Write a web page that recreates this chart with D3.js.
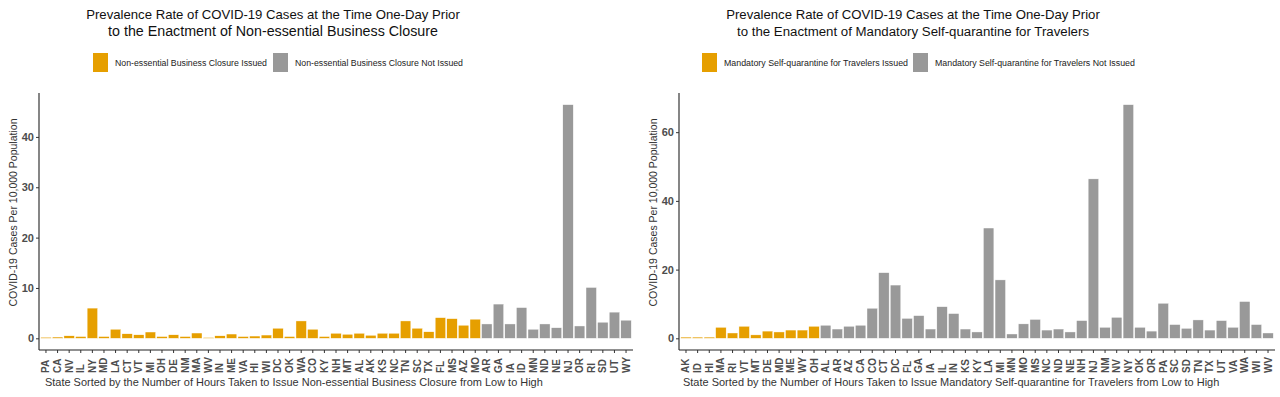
<!DOCTYPE html>
<html>
<head>
<meta charset="utf-8">
<script src="https://cdn.jsdelivr.net/npm/d3@7"></script>
<style>
  body { margin: 0; background: #fff; }
  svg { display: block; font-family: "Liberation Sans", Arial, sans-serif; }
</style>
</head>
<body>
<svg id="chart" width="1280" height="397"></svg>
<script>
// ---- data ----
var closureStates = ['PA','CA','NV','IL','NY','MD','LA','CT','VT','MI','OH','DE','NM','MA','WV','IN','ME','VA','HI','WI','DC','OK','WA','CO','KY','NH','MT','AL','AK','KS','NC','TN','SC','TX','FL','MS','AZ','MO','AR','GA','IA','ID','MN','ND','NE','NJ','OR','RI','SD','UT','WY']
var closureRates = [0.2,0.25,0.5,0.35,6.0,0.35,1.8,0.9,0.7,1.25,0.35,0.7,0.35,1.05,0.15,0.5,0.85,0.35,0.45,0.65,2.0,0.35,3.45,1.8,0.35,1.0,0.8,1.0,0.6,1.0,1.0,3.45,2.0,1.3,4.1,3.9,2.6,3.8,2.85,6.8,2.85,6.1,1.8,2.85,2.1,46.4,2.45,10.1,3.2,5.2,3.6]
var closureIssued = 38   // first 38 states issued the order

var quarStates = ['AK','ID','HI','MA','RI','VT','MT','DE','MD','ME','WY','OH','AL','AR','AZ','CA','CO','CT','DC','FL','GA','IA','IL','IN','KS','KY','LA','MI','MN','MO','MS','NC','ND','NE','NH','NJ','NM','NV','NY','OK','OR','PA','SC','SD','TN','TX','UT','VA','WA','WI','WV']
var quarRates = [0.35,0.35,0.35,3.2,1.55,3.5,1.0,2.1,1.85,2.4,2.4,3.5,3.8,2.7,3.5,3.8,8.75,19.1,15.5,5.8,6.6,2.7,9.2,7.2,2.7,1.85,32.1,17.0,1.26,4.2,5.5,2.4,2.7,1.85,5.15,46.4,3.2,6.1,68.0,3.2,2.1,10.2,4.0,2.9,5.35,2.4,5.15,3.2,10.7,4.0,1.55]
var quarIssued = 12

var closureTicks = [0,10,20,30,40]
var quarTicks = [0,20,40,60]

var orange = '#E69F00', grey = '#999999'
var svg = d3.select('#chart')

function drawPanel(cfg){
  var data = cfg.states.map(function(s,i){
    return {state:s, rate:cfg.rates[i], issued: i < cfg.issued}
  })
  var g = svg.append('g')

  var x = d3.scaleBand().domain(cfg.states)
    .range([cfg.left, cfg.right]).paddingInner(0.1).paddingOuter(0.15)
  var ymax = d3.max(cfg.rates)
  var y = d3.scaleLinear().domain([-0.05*ymax, 1.05*ymax]).range([cfg.bottom, cfg.top])

  // bars
  g.selectAll('.bar').data(data).enter().append('rect')
    .attr('class','bar')
    .attr('x', function(d){return x(d.state)})
    .attr('width', x.bandwidth())
    .attr('y', function(d){return y(d.rate)})
    .attr('height', function(d){return y(0) - y(d.rate)})
    .attr('fill', function(d){return d.issued ? orange : grey})
    .attr('stroke','#fff').attr('stroke-width',0.4)

  // y axis
  var yAxis = g.append('g').attr('transform','translate('+cfg.left+',0)')
    .call(d3.axisLeft(y).tickValues(cfg.ticks).tickSize(3).tickPadding(2))
  yAxis.select('.domain').attr('d','M0,'+cfg.top+'V'+cfg.bottom).attr('stroke','#222').attr('stroke-width',1.1)
  yAxis.selectAll('.tick line').attr('stroke','#333')
  yAxis.selectAll('.tick text').attr('font-size',11).attr('font-weight','bold').attr('fill','#4d4d4d')
  yAxis.attr('font-family',null)

  // x axis
  var xAxis = g.append('g').attr('transform','translate(0,'+cfg.bottom+')')
    .call(d3.axisBottom(x).tickSize(3).tickSizeOuter(0))
  xAxis.select('.domain').attr('d','M'+cfg.left+',0H'+cfg.right).attr('stroke','#222').attr('stroke-width',1.1)
  xAxis.selectAll('.tick line').attr('stroke','#333')
  xAxis.selectAll('.tick text')
    .attr('transform','translate(0,23) rotate(-90)')
    .attr('x',0).attr('y',0).attr('dy','0.35em')
    .attr('text-anchor','start')
    .attr('font-size',10).attr('font-weight','bold').attr('fill','#4d4d4d')
  xAxis.attr('font-family',null)

  // axis titles
  g.append('text')
    .attr('transform','translate('+cfg.ytitleX+','+((cfg.top+cfg.bottom)/2 - 9)+') rotate(-90)')
    .attr('text-anchor','middle').attr('dy','0.35em')
    .attr('font-size',10.5).attr('fill','#333')
    .text('COVID-19 Cases Per 10,000 Population')
  fitText(g.append('text')
    .attr('x', cfg.xtitleX).attr('y', 386)
    .attr('font-size',11).attr('fill','#333')
    .text(cfg.xtitle), cfg.xtitleW)

  // title
  cfg.title.forEach(function(line,i){
    fitText(g.append('text')
      .attr('x', cfg.titleX).attr('y', 19 + i*17)
      .attr('text-anchor','middle')
      .attr('font-size',14).attr('fill','#111')
      .text(line), cfg.titleW[i])
  })

  // legend
  var lg = g.append('g')
  cfg.legend.forEach(function(item,i){
    lg.append('rect').attr('x', item.x).attr('y',53).attr('width',15).attr('height',19)
      .attr('fill', i==0 ? orange : grey)
    fitText(lg.append('text').attr('x', item.x + 22).attr('y',63).attr('dy','0.35em')
      .attr('font-size',10).attr('fill','#222').text(item.label), item.w)
  })
}

// shrink or grow the font so the text spans roughly the width it has in the picture
function fitText(sel, w){
  var fs = +sel.attr('font-size')
  var len = sel.node().getComputedTextLength()
  if(len > 0) sel.attr('font-size', (fs*w/len).toFixed(2))
}

drawPanel({
  states: closureStates, rates: closureRates, issued: closureIssued, ticks: closureTicks,
  left: 39, right: 633, top: 93, bottom: 350, ytitleX: 13,
  xtitleX: 45, xtitleW: 498,
  xtitle: 'State Sorted by the Number of Hours Taken to Issue Non-essential Business Closure from Low to High',
  titleX: 273, titleW: [374, 330],
  title: ['Prevalence Rate of COVID-19 Cases at the Time One-Day Prior','to the Enactment of Non-essential Business Closure'],
  legend: [{x:93, label:'Non-essential Business Closure Issued', w:152},
           {x:273, label:'Non-essential Business Closure Not Issued', w:168}]
})

drawPanel({
  states: quarStates, rates: quarRates, issued: quarIssued, ticks: quarTicks,
  left: 679, right: 1275, top: 93, bottom: 350, ytitleX: 653,
  xtitleX: 683, xtitleW: 537,
  xtitle: 'State Sorted by the Number of Hours Taken to Issue Mandatory Self-quarantine for Travelers from Low to High',
  titleX: 913, titleW: [374, 352],
  title: ['Prevalence Rate of COVID-19 Cases at the Time One-Day Prior','to the Enactment of Mandatory Self-quarantine for Travelers'],
  legend: [{x:702, label:'Mandatory Self-quarantine for Travelers Issued', w:184},
           {x:913, label:'Mandatory Self-quarantine for Travelers Not Issued', w:200}]
})
</script>
</body>
</html>
